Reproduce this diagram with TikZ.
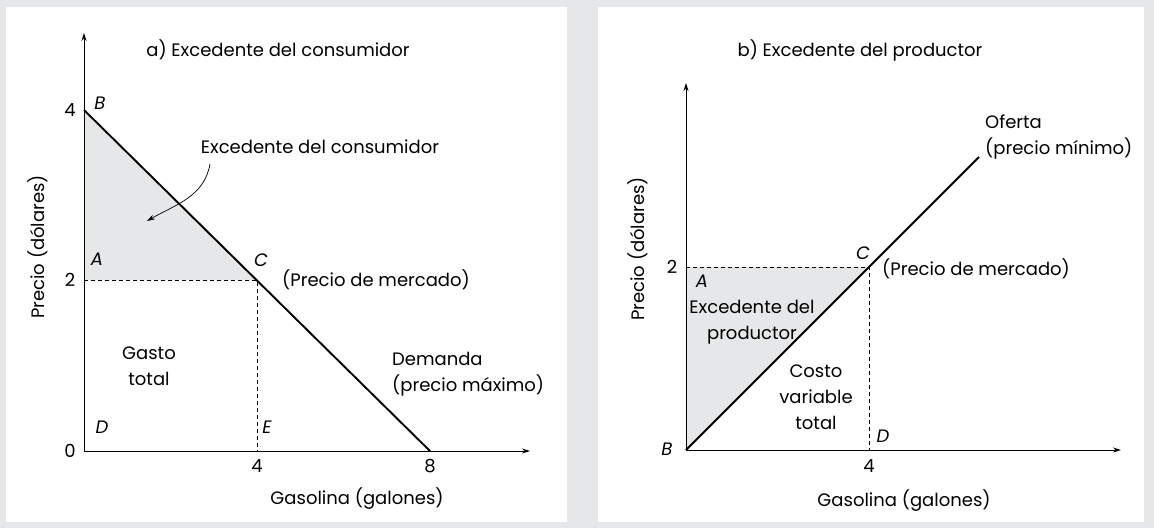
\documentclass[tikz,border=0pt]{standalone}
\usepackage{fontspec}
\setsansfont{Poppins}
\usetikzlibrary{arrows.meta}
\definecolor{panelgray}{RGB}{230,231,232}

\begin{document}
\begin{tikzpicture}[x=1pt,y=1pt,
    axis/.style={-{Stealth[length=8pt,width=5pt]}, line width=0.9pt},
    curve/.style={line width=1.9pt},
    guide/.style={dash pattern=on 4pt off 3pt, line width=0.8pt},
    pt/.style={font=\sffamily\itshape\fontsize{18}{24}\selectfont}]
        \tikzstyle{every node}+=[inner sep=0pt, font=\sffamily\fontsize{18}{26}\selectfont]
        % frame
        \fill [panelgray] (0,0) rectangle (1154,-528);
        \fill [white] (6,-7) rectangle (567,-522);
        \fill [white] (598,-7) rectangle (1144,-522);
        \useasboundingbox (0,0) rectangle (1154,-528);
        % a) consumer
        \coordinate (oA) at (84,-451);
        \coordinate (yA) at (84,-33);
        \coordinate (xA) at (530,-451);
        \coordinate (bA) at (84,-110);
        \coordinate (cA) at (257,-280);
        \coordinate (aA) at (84,-280);
        \coordinate (eA) at (257,-451);
        \coordinate (dA) at (430,-451);
        \fill [panelgray] (bA) -- (cA) -- (aA) -- cycle;
        \draw [guide] (aA) -- (cA) -- (eA);
        \draw [axis] (oA) -- (yA);
        \draw [axis] (oA) -- (xA);
        \draw [curve] (bA) -- (dA);
        \node (titleA) at (278,-50) {a) Excedente del consumidor};
        \node (surplusA) at (320,-147) {Excedente del consumidor};
        \coordinate (arrA) at (210,-164);
        \draw [-{Stealth[length=8pt,width=5pt]}, line width=0.7pt] (arrA) to [out=-100,in=30] (147,-221);
        \node (fourA) at (70,-110) {4};
        \node (twoA) at (70,-280) {2};
        \node (zeroA) at (70,-451) {0};
        \node (xfourA) at (257,-466) {4};
        \node (xeightA) at (430,-466) {8};
        \node [pt] (ptB) at (100,-103) {B};
        \node [pt] (ptA) at (97,-259) {A};
        \node [pt] (ptC) at (261,-260) {C};
        \node [pt] (ptD) at (102,-427) {D};
        \node [pt] (ptE) at (267,-427) {E};
        \node [anchor=west] (mktA) at (282,-280) {(Precio de mercado)};
        \node [align=center] (spend) at (149,-366) {Gasto\\total};
        \node [align=left, anchor=west] (demand) at (392,-374) {Demanda\\(precio máximo)};
        \node (xlabA) at (357,-499) {Gasolina (galones)};
        \node [rotate=90] (ylabA) at (38,-247) {Precio (dólares)};
        % b) producer
        \coordinate (oB) at (686,-450);
        \coordinate (yB) at (686,-83);
        \coordinate (xB) at (1121,-450);
        \coordinate (aB) at (686,-267);
        \coordinate (cB) at (869,-267);
        \coordinate (dB) at (869,-450);
        \coordinate (sB) at (979,-157);
        \fill [panelgray] (oB) -- (cB) -- (aB) -- cycle;
        \draw [guide] (aB) -- (cB) -- (dB);
        \draw [axis] (oB) -- (yB);
        \draw [axis] (oB) -- (xB);
        \draw [curve] (oB) -- (sB);
        \node (titleB) at (860,-50) {b) Excedente del productor};
        \node (twoB) at (672,-267) {2};
        \node (xfourB) at (869,-466) {4};
        \node [pt] (ptBB) at (667,-449) {B};
        \node [pt] (ptCB) at (863,-253) {C};
        \node [pt] (ptAB) at (702,-281) {A};
        \node [pt] (ptDB) at (883,-436) {D};
        \node [align=left, anchor=west] (supply) at (985,-137) {Oferta\\(precio mínimo)};
        \node [anchor=west] (mktB) at (882,-269) {(Precio de mercado)};
        \node [align=center] (surplusB) at (752,-322) {Excedente del\\productor};
        \node [align=center] (varcost) at (816,-397) {Costo\\variable\\total};
        \node (xlabB) at (904,-501) {Gasolina (galones)};
        \node [rotate=90] (ylabB) at (638,-249) {Precio (dólares)};
\end{tikzpicture}
\end{document}
